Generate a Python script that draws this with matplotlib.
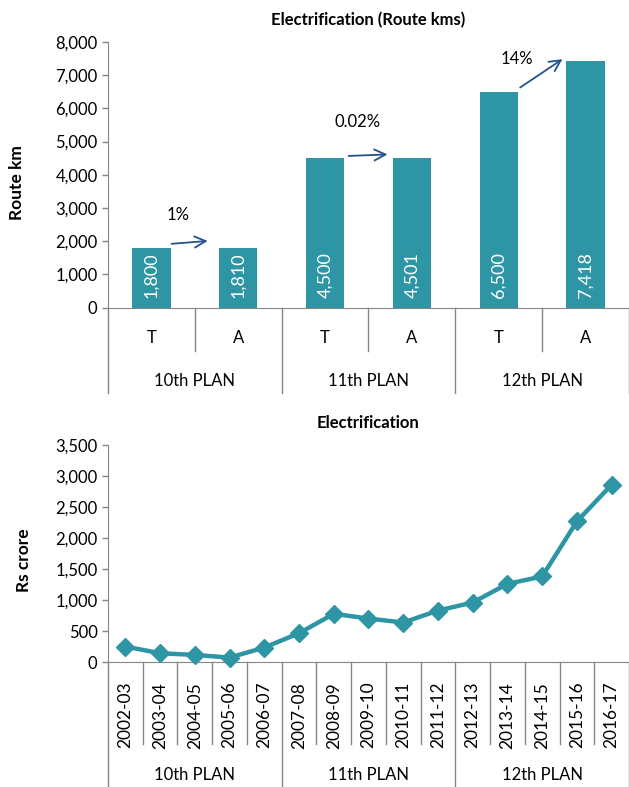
import matplotlib
matplotlib.use("Agg")
import matplotlib.pyplot as plt
import matplotlib.ticker as mtick

plt.rcParams['font.family'] = ['Lato', 'DejaVu Sans']

# top chart: target (T) vs achieved (A) route km per plan
bar_labels = ["T", "A", "T", "A", "T", "A"]
route_km = [1800, 1810, 4500, 4501, 6500, 7418]
plans = ["10th PLAN", "11th PLAN", "12th PLAN"]
growth = ["1%", "0.02%", "14%"]

# bottom chart: yearly spend on electrification
years = ["2002-03", "2003-04", "2004-05", "2005-06", "2006-07",
         "2007-08", "2008-09", "2009-10", "2010-11", "2011-12",
         "2012-13", "2013-14", "2014-15", "2015-16", "2016-17"]
spend = [253, 145, 118, 75, 237, 468, 780, 704, 640, 833, 962, 1263, 1382, 2269, 2860]

TEAL = "#2E95A5"
ARROW = "#24528A"
GREY = "#868686"
FS = 12

fig = plt.figure(figsize=(6.29, 7.87), dpi=100)


def style_axes(ax):
    for s in ["top", "right"]:
        ax.spines[s].set_visible(False)
    ax.spines["left"].set_color(GREY)
    ax.spines["bottom"].set_color(GREY)
    ax.tick_params(axis="y", colors=GREY, labelcolor="black", labelsize=FS, length=4, width=1)
    ax.set_xticks([])
    ax.yaxis.set_major_formatter(mtick.FuncFormatter(lambda v, p: "{:,.0f}".format(v)))


def sep(ax, x, y_end):
    ax.plot([x, x], [0, y_end], color=GREY, lw=1, transform=ax.get_xaxis_transform(), clip_on=False)


# ---------------- top chart ----------------
ax1 = fig.add_axes([0.1717, 0.609, 0.8283, 0.3379])
xs = list(range(len(route_km)))
ax1.bar(xs, route_km, width=0.44, color=TEAL)
ax1.set_xlim(-0.5, len(route_km) - 0.5)
ax1.set_ylim(0, 8000)
ax1.set_yticks(range(0, 8001, 1000))
style_axes(ax1)
ax1.set_title("Electrification (Route kms)", fontsize=12, fontweight="bold", pad=12)
ax1.set_ylabel("Route km", fontsize=12.5, fontweight="bold")
ax1.yaxis.set_label_coords(-0.159, 0.47)

for x, v in zip(xs, route_km):
    ax1.text(x, 300, "{:,}".format(v), rotation=90, color="white", fontsize=13,
             ha="center", va="bottom")

# T/A labels and separators
for x, lab in zip(xs, bar_labels):
    ax1.text(x, -0.114, lab, transform=ax1.get_xaxis_transform(), ha="center", va="center", fontsize=FS)
for i in range(len(route_km) + 1):
    sep(ax1, i - 0.5, -0.321 if i % 2 == 0 else -0.161)
for i, p in enumerate(plans):
    ax1.text(2 * i + 0.5, -0.274, p, transform=ax1.get_xaxis_transform(), ha="center", va="center", fontsize=FS)

# growth arrows T -> A
arrow_pts = [((0.2, 1916), (0.68, 2015)), ((2.24, 4563), (2.75, 4614)), ((4.22, 6578), (4.76, 7524))]
label_pts = [(0.31, 2790), (2.37, 5590), (4.21, 7485)]
for (s, e), (lx, ly), g in zip(arrow_pts, label_pts, growth):
    ax1.annotate("", xy=e, xytext=s,
                 arrowprops=dict(arrowstyle="->", color=ARROW, lw=1.3, mutation_scale=20))
    ax1.text(lx, ly, g, ha="center", va="center", fontsize=FS)

# ---------------- bottom chart ----------------
ax2 = fig.add_axes([0.1717, 0.1585, 0.8283, 0.2761])
xs2 = list(range(len(spend)))
ax2.plot(xs2, spend, color=TEAL, lw=3.2, marker="D", markersize=9, clip_on=False, zorder=3)
ax2.set_xlim(-0.5, len(spend) - 0.5)
ax2.set_ylim(0, 3500)
ax2.set_yticks(range(0, 3501, 500))
style_axes(ax2)
ax2.set_title("Electrification", fontsize=12, fontweight="bold", pad=12)
ax2.set_ylabel("Rs crore", fontsize=12.5, fontweight="bold")
ax2.yaxis.set_label_coords(-0.146, 0.47)

for x, lab in zip(xs2, years):
    ax2.text(x, -0.09, lab, transform=ax2.get_xaxis_transform(), rotation=90,
             ha="center", va="top", fontsize=12.5)
plan_edges = [0, 5, 10, 15]
for i in range(len(spend) + 1):
    sep(ax2, i - 0.5, -0.574 if i in plan_edges else -0.376)
for i, p in enumerate(plans):
    ax2.text(5 * i + 2, -0.518, p, transform=ax2.get_xaxis_transform(), ha="center", va="center", fontsize=FS)

fig.savefig("out.png", dpi=100)
